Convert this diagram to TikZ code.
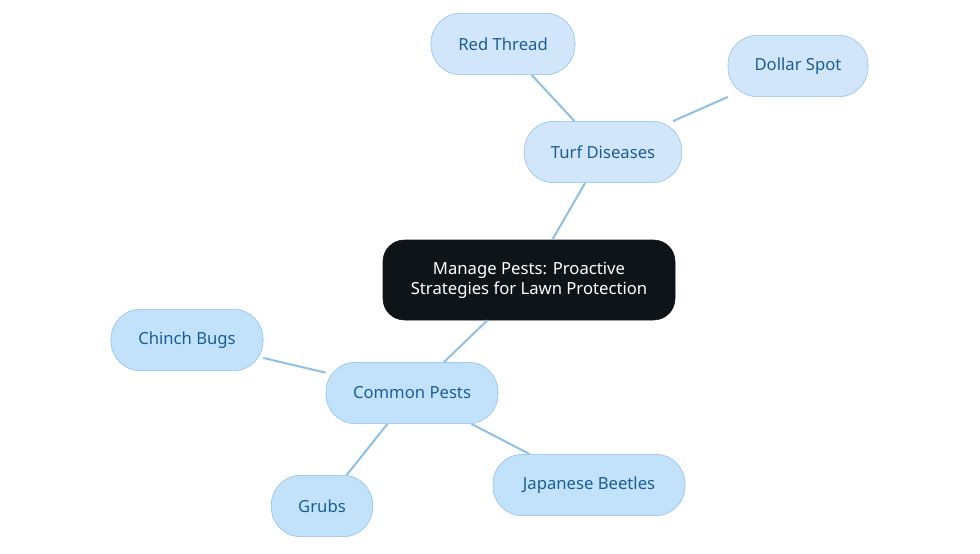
\documentclass[tikz,border=0pt]{standalone}
\usepackage{fontspec}
\setmainfont{Noto Sans}
\usetikzlibrary{positioning}
\definecolor{darkbox}{HTML}{0F1419}
\definecolor{subfill}{HTML}{D2E6FB}
\definecolor{leaffill}{HTML}{C2E2FB}
\definecolor{boxline}{HTML}{8DBDE6}
\definecolor{boxtext}{HTML}{1A5E96}
\definecolor{edgeblue}{HTML}{8CC0E6}
\begin{document}
\begin{tikzpicture}[x=0.75pt, y=-0.75pt,
    box/.style={rectangle, draw=boxline, fill=subfill, text=boxtext, rounded corners=22pt, inner sep=0pt, font=\fontsize{12.5}{15}\selectfont, align=center},
    pest/.style={box, fill=leaffill},
    root/.style={box, draw=darkbox, fill=darkbox, text=white, rounded corners=16pt},
    link/.style={draw=edgeblue, line width=1.5pt}]
    \useasboundingbox (0,0) rectangle (980,553);
    \node[root, minimum width=219pt, minimum height=60pt] (pests) at (529,280) {Manage Pests: Proactive\\Strategies for Lawn Protection};
    \node[box, minimum width=118pt, minimum height=46pt] (turf) at (603,152) {Turf Diseases};
    \node[box, minimum width=108pt, minimum height=46pt] (thread) at (503,44) {Red Thread};
    \node[box, minimum width=105pt, minimum height=46pt] (dollar) at (798,66) {Dollar Spot};
    \node[pest, minimum width=129pt, minimum height=46pt] (common) at (412,393) {Common Pests};
    \node[pest, minimum width=114pt, minimum height=46pt] (chinch) at (187,340) {Chinch Bugs};
    \node[pest, minimum width=76pt, minimum height=46pt] (grubs) at (322,506) {Grubs};
    \node[pest, minimum width=144pt, minimum height=46pt] (beetles) at (589,485) {Japanese Beetles};

    \draw[link] (pests) -- (turf);
    \draw[link] (turf) -- (thread);
    \draw[link] (turf) -- (dollar);
    \draw[link] (pests) -- (common);
    \draw[link] (common) -- (chinch);
    \draw[link] (common) -- (grubs);
    \draw[link] (common) -- (beetles);
\end{tikzpicture}
\end{document}
